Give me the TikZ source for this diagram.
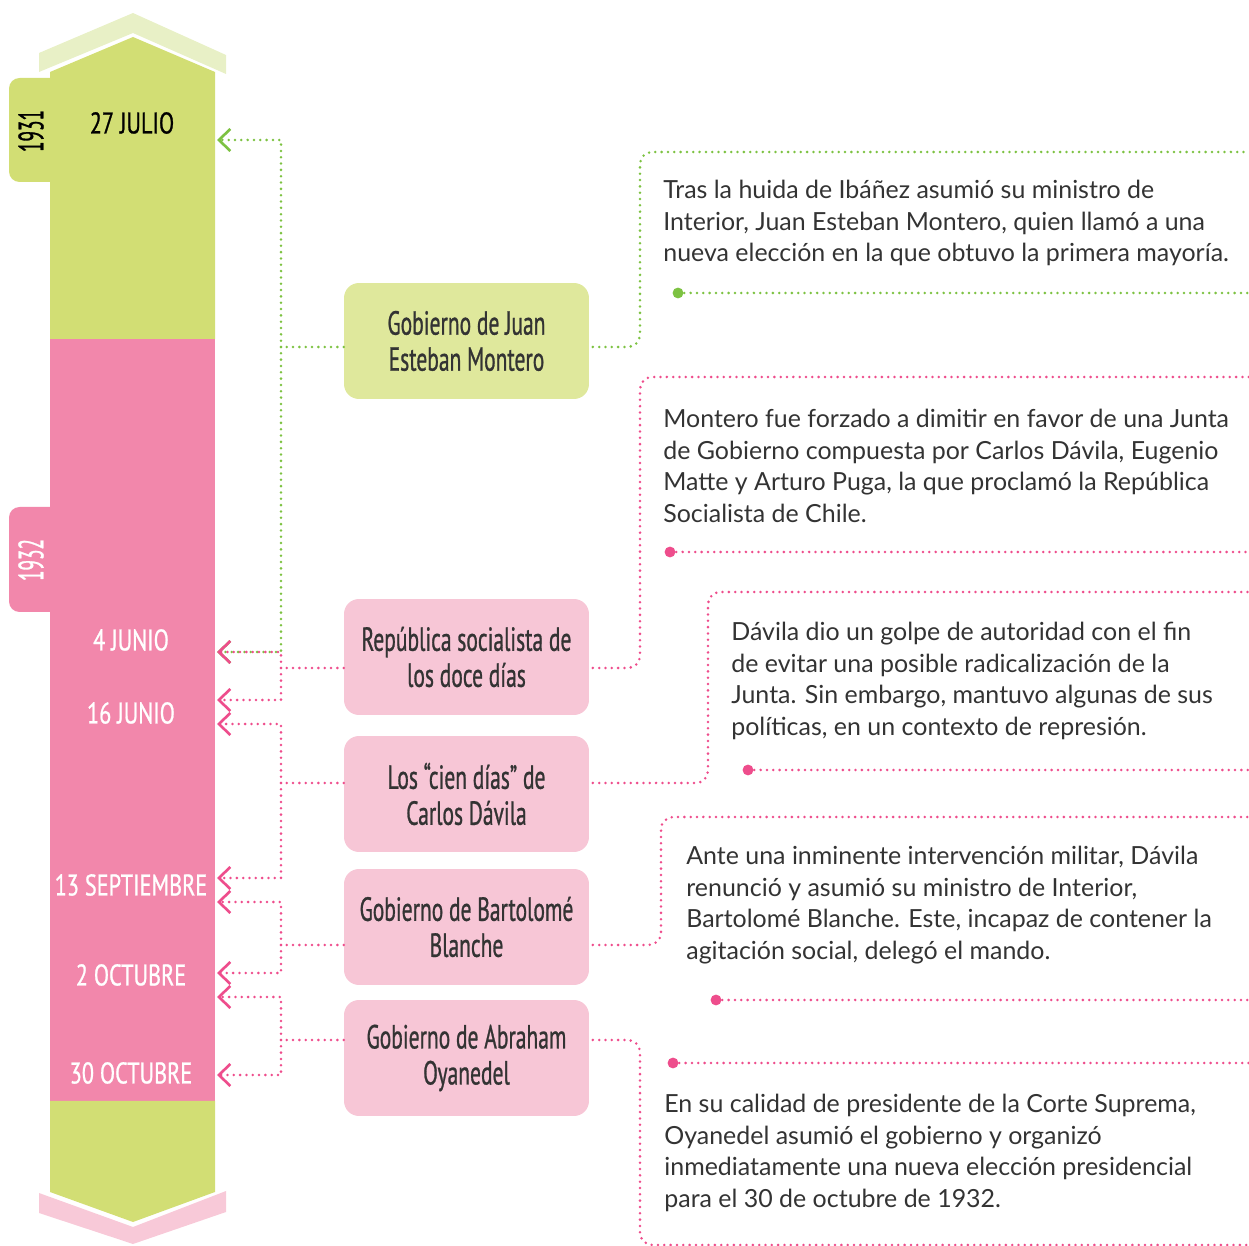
\documentclass[tikz,border=0pt]{standalone}
\usepackage{fontspec}
\setmainfont{Lato}
\newfontfamily\handfont[FakeStretch=0.645,FakeBold=0.8]{PT Sans}
\newfontfamily\datefont[FakeStretch=0.745,FakeBold=0.8]{PT Sans}
\newfontfamily\yearfont[FakeStretch=0.55,FakeBold=0.8]{PT Sans}
\usetikzlibrary{arrows.meta}
\definecolor{bargreen}{HTML}{D2DE74}
\definecolor{capgreen}{HTML}{E8F0C6}
\definecolor{barpink}{HTML}{F287AB}
\definecolor{cappink}{HTML}{F8C9D8}
\definecolor{boxgreen}{HTML}{DFE89C}
\definecolor{boxpink}{HTML}{F7C6D6}
\definecolor{dotgreen}{HTML}{7DC242}
\definecolor{dotpink}{HTML}{EE4D8C}
\definecolor{inkgray}{HTML}{333333}
\tikzset{
  event/.style={rounded corners=8.5pt, minimum width=4.9cm, minimum height=2.32cm,
    align=center, text=inkgray, font=\handfont\fontsize{19}{20.5}\selectfont},
  datelbl/.style={font=\datefont\fontsize{17}{18}\selectfont},
  yearlbl/.style={rotate=90, font=\yearfont\fontsize{20}{20}\selectfont},
  desc/.style={anchor=west, align=left, text=inkgray, inner sep=0pt,
    font=\fontsize{14.2}{18.1}\selectfont},
  dotline/.style={line width=1.6pt, line cap=round, dash pattern=on 0pt off 3.6pt},
  gline/.style={dotline, dotgreen},
  pline/.style={dotline, dotpink},
  chev/.style={-{Straight Barb[length=6.5pt,width=12.5pt,line width=1.5pt]}}
}

\begin{document}
\begin{tikzpicture}[x=0.02cm,y=-0.02cm]
\useasboundingbox (0,0) rectangle (1249,1246);

% year tabs
\fill[bargreen, rounded corners=6pt] (9,78) rectangle (70,182);
\fill[barpink, rounded corners=6pt] (9,507) rectangle (70,612);

% time bar
\fill[capgreen] (39,53) -- (133,13) -- (226,55) -- (226,74) -- (133,33) -- (39,72) -- cycle;
\fill[bargreen] (50,339) -- (50,72) -- (133,37) -- (215,72) -- (215,339) -- cycle;
\fill[barpink] (50,339) rectangle (215,1101);
\fill[bargreen] (50,1101) -- (50,1192) -- (133,1222) -- (215,1192) -- (215,1101) -- cycle;
\fill[cappink] (39,1193) -- (133,1227) -- (226,1191) -- (226,1212) -- (133,1244) -- (39,1213) -- cycle;

\node[yearlbl, text=black] (y31) at (31,131) {1931};
\node[yearlbl, text=white] (y32) at (31,560) {1932};

\node[datelbl, text=black] (jul27) at (132,123) {27 JULIO};
\node[datelbl, text=white] (jun4) at (131,640) {4 JUNIO};
\node[datelbl, text=white] (jun16) at (131,713) {16 JUNIO};
\node[datelbl, text=white] (sep13) at (131,885) {13 SEPTIEMBRE};
\node[datelbl, text=white] (oct2) at (131,975) {2 OCTUBRE};
\node[datelbl, text=white] (oct30) at (131,1073) {30 OCTUBRE};

% arrow ends on the bar
\coordinate (t1) at (217,140);
\coordinate (t2) at (217,652);
\coordinate (t3) at (217,700);
\coordinate (t4) at (217,724);
\coordinate (t5) at (217,878);
\coordinate (t6) at (217,902);
\coordinate (t7) at (217,973);
\coordinate (t8) at (217,997);
\coordinate (t9) at (217,1075);

% events
\node[event, fill=boxgreen] (montero) at (466.5,341) {Gobierno de Juan\\Esteban Montero};
\node[event, fill=boxpink] (republica) at (466.5,657) {República socialista de\\los doce días};
\node[event, fill=boxpink] (davila) at (466.5,794) {Los “cien días” de\\Carlos Dávila};
\node[event, fill=boxpink] (blanche) at (466.5,927) {Gobierno de Bartolomé\\Blanche};
\node[event, fill=boxpink] (oyanedel) at (466.5,1058) {Gobierno de Abraham\\Oyanedel};

\coordinate (j1) at (281,347);
\coordinate (j2) at (281,668);
\coordinate (j3) at (281,783);
\coordinate (j4) at (281,945);
\coordinate (j5) at (281,1040);

% brackets to the bar
\draw[gline] (montero.west |- j1) -- (j1);
\draw[gline, chev] (j1) |- (t1);
\draw[gline, chev] (j1) |- (t2);
\draw[pline] (republica.west |- j2) -- (j2);
\draw[pline, chev] (j2) |- (t2);
\draw[pline, chev] (j2) |- (t3);
\draw[pline] (davila.west |- j3) -- (j3);
\draw[pline, chev] (j3) |- (t4);
\draw[pline, chev] (j3) |- (t5);
\draw[pline] (blanche.west |- j4) -- (j4);
\draw[pline, chev] (j4) |- (t6);
\draw[pline, chev] (j4) |- (t7);
\draw[pline] (oyanedel.west |- j5) -- (j5);
\draw[pline, chev] (j5) |- (t8);
\draw[pline, chev] (j5) |- (t9);

% descriptions
\coordinate (e1) at (1249,152);
\coordinate (e2) at (1249,377);
\coordinate (e3) at (1249,592);
\coordinate (e4) at (1249,817);
\coordinate (e5) at (1249,1245);
\draw[gline, rounded corners=7pt] ([xshift=2pt]montero.east |- j1) -| (640,152) -- (e1);
\draw[pline, rounded corners=7pt] ([xshift=2pt]republica.east |- j2) -| (640,377) -- (e2);
\draw[pline, rounded corners=7pt] ([xshift=2pt]davila.east |- j3) -| (708,592) -- (e3);
\draw[pline, rounded corners=7pt] ([xshift=2pt]blanche.east |- j4) -| (661,817) -- (e4);
\draw[pline, rounded corners=7pt] ([xshift=2pt]oyanedel.east |- j5) -| (640,1245) -- (e5);

\node[desc] (txt1) at (663,223) {Tras la huida de Ibáñez asumió su ministro de\\Interior, Juan Esteban Montero, quien llamó a una\\nueva elección en la que obtuvo la primera mayoría.};
\node[desc] (txt2) at (663,466) {Montero fue forzado a dimitir en favor de una Junta\\de Gobierno compuesta por Carlos Dávila, Eugenio\\Matte y Arturo Puga, la que proclamó la República\\Socialista de Chile.};
\node[desc] (txt3) at (731,681) {Dávila dio un golpe de autoridad con el fin\\de evitar una posible radicalización de la\\Junta. Sin embargo, mantuvo algunas de sus\\políticas, en un contexto de represión.};
\node[desc] (txt4) at (686,905) {Ante una inminente intervención militar, Dávila\\renunció y asumió su ministro de Interior,\\Bartolomé Blanche. Este, incapaz de contener la\\agitación social, delegó el mando.};
\node[desc] (txt5) at (664,1153) {En su calidad de presidente de la Corte Suprema,\\Oyanedel asumió el gobierno y organizó\\inmediatamente una nueva elección presidencial\\para el 30 de octubre de 1932.};

\coordinate (s1) at (678,293);
\coordinate (s2) at (670,552);
\coordinate (s3) at (748,770);
\coordinate (s4) at (716,1000);
\coordinate (s5) at (673,1063);
\fill[dotgreen] (s1) circle (3.1pt);
\draw[gline] (s1) -- (s1 -| e1);
\foreach \s in {s2,s3,s4,s5}{
  \fill[dotpink] (\s) circle (3.1pt);
  \draw[pline] (\s) -- (\s -| e1);
}
\end{tikzpicture}
\end{document}
